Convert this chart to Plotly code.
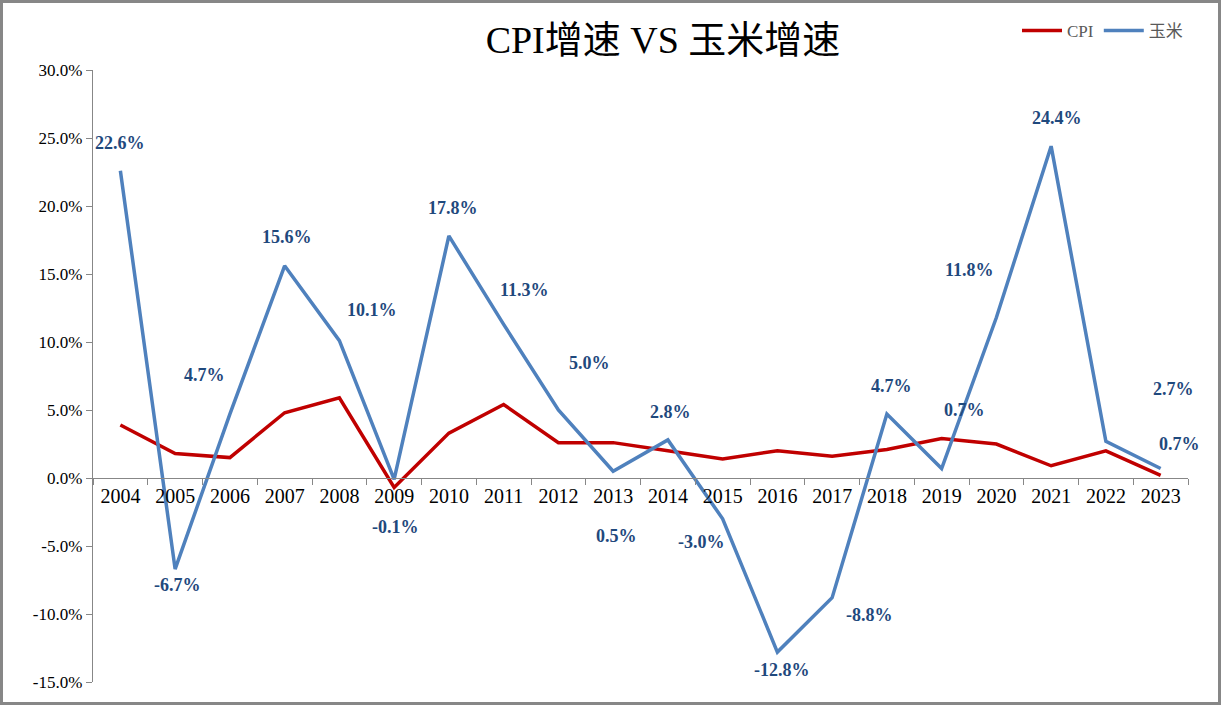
import plotly.graph_objects as go

years = [str(y) for y in range(2004, 2024)]
cpi = [3.9, 1.8, 1.5, 4.8, 5.9, -0.7, 3.3, 5.4, 2.6, 2.6, 2.0, 1.4, 2.0, 1.6, 2.1, 2.9, 2.5, 0.9, 2.0, 0.2]
corn = [22.6, -6.7, 4.7, 15.6, 10.1, -0.1, 17.8, 11.3, 5.0, 0.5, 2.8, -3.0, -12.8, -8.8, 4.7, 0.7, 11.8, 24.4, 2.7, 0.7]
# label offsets (pixels) relative to each corn point
lab_dx = [0, 2, -25, 2, 33, 1, 4, 21, 31, 3, 3, -21, 5, 37, 5, 23, -27, 6, 68, 19]
lab_dy = [28, -16, 39, 29, 31, -48, 28, 34, 47, -65, 28, -23, -18, -17, 28, 58, 48, 28, 52, 24]
yticks = [-15, -10, -5, 0, 5, 10, 15, 20, 25, 30]

SERIF = "Liberation Serif, Noto Sans CJK SC, serif"
W, H = 1221, 705
ML, MR, MT, MB = 93, 33, 70, 23

fig = go.Figure()
fig.add_trace(go.Scatter(x=years, y=cpi, mode="lines", name="CPI",
                         line=dict(color="#C00000", width=3.5)))
fig.add_trace(go.Scatter(x=years, y=corn, mode="lines", name="玉米",
                         line=dict(color="#4F81BD", width=3.5)))

for i, (y, dx, dy) in enumerate(zip(corn, lab_dx, lab_dy)):
    fig.add_annotation(x=i, y=y, xref="x", yref="y", text=f"<b>{y:.1f}%</b>", showarrow=False,
                       xshift=dx, yshift=dy,
                       font=dict(family=SERIF, size=18, color="#1F497D"))

pw = W - ML - MR
ph = H - MT - MB
fig.add_shape(type="rect", xref="paper", yref="paper",
              x0=(1.5 - ML) / pw, x1=(W - 1.5 - ML) / pw,
              y0=-(MB - 1.5) / ph, y1=1 + (MT - 1.5) / ph,
              line=dict(color="#878787", width=3), fillcolor="rgba(0,0,0,0)", layer="below")

fig.update_layout(
    width=W, height=H,
    margin=dict(l=ML, r=MR, t=MT, b=MB),
    paper_bgcolor="white", plot_bgcolor="white",
    title=dict(text="CPI增速 VS 玉米增速", x=(663) / W, xanchor="center",
               y=1 - 40 / H, yanchor="middle",
               font=dict(family=SERIF, size=38, color="black")),
    legend=dict(orientation="h", x=1.0, xanchor="right", y=1 + (70 - 31) / ph, yanchor="middle",
                font=dict(family=SERIF, size=17, color="#595959"),
                bgcolor="rgba(0,0,0,0)", itemwidth=40, tracegroupgap=0),
    showlegend=True,
    xaxis=dict(type="category", anchor="free", position=15 / 45,
               showline=True, linecolor="#878787", linewidth=1.3,
               ticks="outside", tickson="boundaries", ticklen=6, tickcolor="#878787",
               showgrid=False, zeroline=False,
               tickfont=dict(family=SERIF, size=20, color="black"),
               range=[-0.5, 19.5]),
    yaxis=dict(range=[-15, 30], tickvals=yticks,
               ticktext=[f"{v:.1f}%" for v in yticks],
               showline=True, linecolor="#878787", linewidth=1.3,
               ticks="outside", ticklen=6, tickcolor="#878787",
               showgrid=False, zeroline=False,
               tickfont=dict(family=SERIF, size=17, color="black")),
)

fig.write_html("out.html", config={"displayModeBar": False},
               post_script="document.body.style.margin='0';")
